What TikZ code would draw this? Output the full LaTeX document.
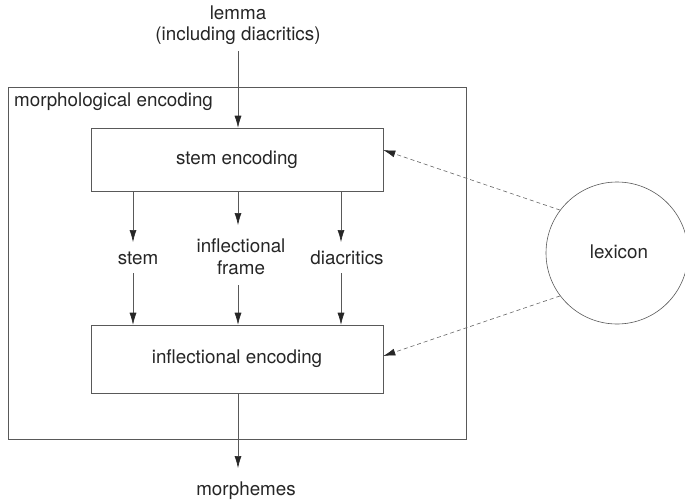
\documentclass[tikz,border=0pt]{standalone}
\usepackage{fontspec}
\setmainfont{TeX Gyre Heros}
\usetikzlibrary{arrows.meta,calc}
\begin{document}
\begin{tikzpicture}[x=1pt,y=-1pt,
  txt/.style={text=black!85, font=\fontsize{18.8}{21.5}\selectfont, inner sep=0pt, align=center},
  box/.style={draw=black!65, line width=0.6pt, minimum width=292pt, inner sep=0pt},
  arr/.style={draw=black!65, line width=0.6pt, -{Latex[length=12pt,width=7pt,color=black!85]}},
  dasharr/.style={draw=black!60, line width=0.6pt, dash pattern=on 4pt off 3pt, -{Latex[length=12pt,width=7pt,color=black!85]}}]
\useasboundingbox[fill=white] (0,0) rectangle (685,501);
% outer frame
\node[draw=black!65, line width=0.6pt, minimum width=458pt, minimum height=352pt, inner sep=0pt] (outer) at (237,263) {};
\node[txt, anchor=west] (mlabel) at (14,102) {morphological encoding};
% texts
\node[txt] (lemma) at (238,25) {lemma\\(including diacritics)};
\node[box, minimum height=63pt, txt, draw=black!65] (stemenc) at (237,159.5) {stem encoding};
\node[box, minimum height=68pt, txt, draw=black!65] (inflenc) at (237,359) {inflectional encoding};
\node[txt] (stemlbl) at (138,258) {stem};
\node[txt] (framelbl) at (241,257) {inflectional\\frame};
\node[txt] (diaclbl) at (347,258) {diacritics};
\node[txt] (morph) at (246,491) {morphemes};
\node[draw=black!65, line width=0.6pt, circle, minimum size=142pt, inner sep=0pt] (lex) at (617,253) {};
\node[txt] (lexlbl) at (619,252) {lexicon};
% coordinates for free ends
\coordinate (l0) at (238,51);
\coordinate (a1) at (133,242);
\coordinate (b1) at (133,273);
\coordinate (a2) at (238,225);
\coordinate (b2) at (238,285);
\coordinate (a3) at (341,242);
\coordinate (b3) at (341,273);
\coordinate (m0) at (238,468);
% arrows
\draw[arr] (l0) -- (stemenc.north -| l0);
\draw[arr] (stemenc.south -| a1) -- (a1);
\draw[arr] (stemenc.south -| a2) -- (a2);
\draw[arr] (stemenc.south -| a3) -- (a3);
\draw[arr] (b1) -- (inflenc.north -| b1);
\draw[arr] (b2) -- (inflenc.north -| b2);
\draw[arr] (b3) -- (inflenc.north -| b3);
\draw[arr] (inflenc.south -| m0) -- (m0);
\draw[dasharr] (lex.143) -- ($(stemenc.east)+(0,-9.5)$);
\draw[dasharr] (lex.217) -- ($(inflenc.east)+(0,-3)$);
\end{tikzpicture}
\end{document}
